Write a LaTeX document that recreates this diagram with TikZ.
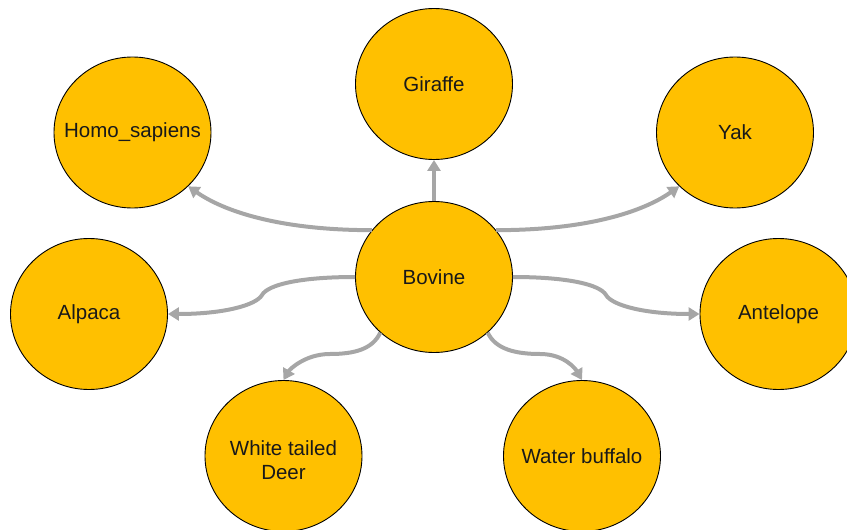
\documentclass[tikz,border=0pt]{standalone}
\usepackage{fontspec}
\setmainfont{Liberation Sans}
\usetikzlibrary{shapes.geometric,arrows.meta}
\definecolor{gold}{HTML}{FFC000}
\definecolor{arrowgray}{HTML}{A6A6A6}
\begin{document}
\begin{tikzpicture}[x=1pt,y=1pt,
  animal/.style={ellipse,draw=black,line width=0.9pt,fill=gold,minimum width=157pt,minimum height=151pt,inner sep=0pt,
    font=\fontsize{20.5}{23.5}\selectfont,text=black!90,align=center},
  link/.style={draw=arrowgray,line width=4pt,-{Triangle[length=11pt,width=13pt]}}]
\useasboundingbox (0,0) rectangle (847,-530);
\node[animal] (gir) at (434,-84) {Giraffe};
\node[animal] (homo) at (132.5,-132.5) {\makebox[0pt][c]{Homo\_sapiens}};
\node[animal] (yak) at (735,-132.5) {Yak};
\node[animal] (bov) at (434,-277) {Bovine};
\node[animal] (alp) at (89,-314) {Alpaca};
\node[animal] (ant) at (778.5,-314) {Antelope};
\node[animal] (deer) at (283.5,-456) {\mbox{}\\White tailed\\Deer};
\node[animal] (wat) at (582,-456) {\makebox[0pt][c]{Water buffalo}};
\coordinate (amid) at (262,-295);
\coordinate (tmid) at (606,-295);
\coordinate (dmid) at (330,-354);
\coordinate (wmid) at (540,-354);
\draw[link] (bov.90) -- (gir.-90);
\draw[link] (bov.143.7) to[out=180,in=-35,out distance=90pt,in distance=45pt] (homo.-44);
\draw[link] (bov.37.3) to[out=0,in=-145,out distance=90pt,in distance=45pt] (yak.-136);
\draw[link] (bov.180) to[out=180,in=60,out distance=55pt,in distance=12pt] (amid) to[out=240,in=0,out distance=12pt,in distance=55pt] (alp.0);
\draw[link] (bov.0) to[out=0,in=120,out distance=55pt,in distance=12pt] (tmid) to[out=-60,in=180,out distance=12pt,in distance=55pt] (ant.180);
\draw[link] (bov.-134) to[out=-115,in=0,out distance=18pt,in distance=25pt] (dmid) to[out=180,in=60,out distance=25pt,in distance=12pt] (deer.90);
\draw[link] (bov.-46) to[out=-65,in=180,out distance=18pt,in distance=25pt] (wmid) to[out=0,in=120,out distance=25pt,in distance=12pt] (wat.90);
\end{tikzpicture}
\end{document}
